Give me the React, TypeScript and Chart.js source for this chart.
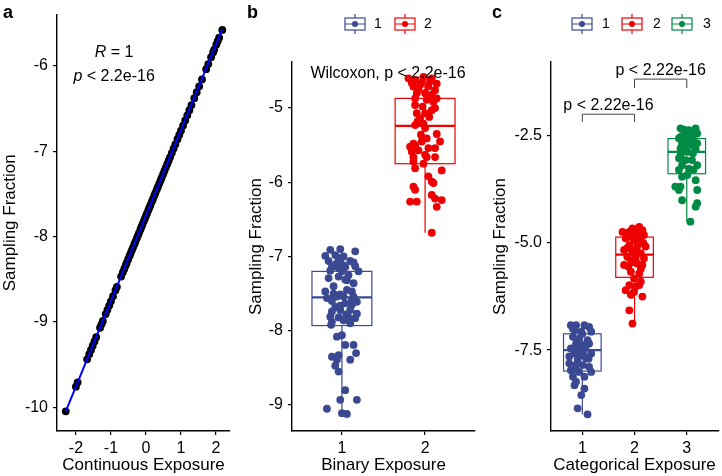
import React, { useEffect, useRef } from "react";
import { Chart, registerables } from "chart.js";
Chart.register(...registerables);

const FONT = "'Liberation Sans', Arial, Helvetica, sans-serif";
const BLUE = "#3B4992";
const RED = "#EE0000";
const GREEN = "#008B45";
const LINE_BLUE = "#0000FF";

// ---------- Panel a: continuous exposure ----------
const contX = [-2.29, -2.0, -1.95, -1.68, -1.62, -1.57, -1.52, -1.47, -1.42, -1.31, -1.27, -1.23, -1.15, -1.1, -1.05, -1.0, -0.94, -0.87, -0.83, -0.71, -0.66, -0.62, -0.58, -0.55, -0.51, -0.47, -0.44, -0.4, -0.37, -0.33, -0.3, -0.26, -0.23, -0.2, -0.16, -0.13, -0.1, -0.06, -0.03, 0.0, 0.03, 0.07, 0.1, 0.13, 0.17, 0.2, 0.24, 0.27, 0.31, 0.34, 0.38, 0.42, 0.45, 0.49, 0.53, 0.57, 0.61, 0.65, 0.69, 0.74, 0.79, 0.84, 0.9, 0.95, 1.0, 1.06, 1.12, 1.18, 1.24, 1.3, 1.38, 1.45, 1.52, 1.6, 1.72, 1.78, 1.86, 1.92, 1.95, 2.01, 2.05, 2.09, 2.18];
const contY = [-10.05, -9.76, -9.71, -9.44, -9.38, -9.33, -9.28, -9.23, -9.18, -9.07, -9.03, -8.99, -8.91, -8.86, -8.81, -8.76, -8.70, -8.63, -8.59, -8.47, -8.42, -8.38, -8.34, -8.31, -8.27, -8.23, -8.20, -8.16, -8.13, -8.09, -8.06, -8.02, -7.99, -7.96, -7.92, -7.89, -7.86, -7.82, -7.79, -7.76, -7.73, -7.69, -7.66, -7.63, -7.59, -7.56, -7.52, -7.49, -7.45, -7.42, -7.38, -7.34, -7.31, -7.27, -7.23, -7.19, -7.15, -7.11, -7.07, -7.02, -6.97, -6.92, -6.86, -6.81, -6.76, -6.70, -6.64, -6.58, -6.52, -6.46, -6.38, -6.31, -6.24, -6.16, -6.04, -5.98, -5.90, -5.84, -5.81, -5.75, -5.71, -5.67, -5.58];
const fitX = [-2.29, 2.18];
const fitY = [-10.05, -5.57];
const contXTicks = [-2, -1, 0, 1, 2];
const contXTickLabels = ["-2", "-1", "0", "1", "2"];
const contYTicks = [-10, -9, -8, -7, -6];
const contYTickLabels = ["-10", "-9", "-8", "-7", "-6"];

// ---------- Panel b: binary exposure ----------
const binCats = [1, 2];
const binCatLabels = ["1", "2"];
const binG1X = [0.86, 0.98, 1.16, 0.80, 0.92, 1.02, 0.84, 0.98, 1.10, 1.14, 0.88, 0.96, 1.04, 1.16, 0.86, 1.00, 1.20, 0.84, 0.96, 1.06, 1.04, 0.80, 0.90, 0.98, 1.06, 1.12, 0.82, 0.94, 1.02, 1.14, 1.18, 0.92, 1.04, 1.12, 0.88, 0.98, 1.10, 1.18, 0.86, 0.96, 1.08, 1.16, 0.88, 1.02, 1.10, 0.87, 0.94, 1.00, 1.04, 1.14, 0.88, 0.96, 1.17, 0.94, 1.10, 0.92, 0.96, 1.04, 0.98, 1.18, 0.82, 1.00, 1.06, 0.93, 1.08, 0.90, 1.12, 0.98, 0.88, 1.05, 1.14, 0.96, 1.02];
const binG1Y = [-6.91, -6.90, -6.93, -6.99, -6.98, -7.00, -7.06, -7.07, -7.06, -7.08, -7.14, -7.15, -7.14, -7.13, -7.19, -7.20, -7.20, -7.29, -7.27, -7.32, -7.31, -7.47, -7.50, -7.51, -7.45, -7.47, -7.56, -7.54, -7.54, -7.54, -7.61, -7.68, -7.63, -7.65, -7.74, -7.72, -7.72, -7.77, -7.81, -7.82, -7.82, -7.83, -7.88, -7.86, -7.90, -7.92, -8.08, -8.06, -8.19, -8.19, -8.35, -8.33, -8.30, -8.39, -8.39, -8.47, -8.55, -8.80, -8.93, -8.93, -9.05, -9.11, -9.12, -7.10, -7.25, -7.40, -7.58, -7.66, -7.60, -7.78, -7.36, -7.02, -7.12];
const binG2X = [1.80, 1.88, 1.98, 2.08, 2.14, 1.86, 1.94, 2.04, 2.12, 1.90, 2.00, 2.08, 1.88, 2.02, 2.14, 2.12, 1.88, 1.90, 2.00, 1.94, 1.98, 1.88, 2.00, 2.02, 1.96, 2.18, 1.82, 1.88, 2.04, 2.12, 1.84, 1.92, 1.86, 2.02, 2.12, 1.86, 1.88, 1.98, 2.20, 2.04, 2.08, 2.10, 1.86, 1.88, 2.08, 2.12, 2.20, 1.82, 1.90, 2.14, 2.08, 1.96, 2.06, 1.92, 2.10, 1.97, 2.05, 1.91, 2.14, 1.86, 2.00, 1.95, 2.08, 1.84];
const binG2Y = [-4.60, -4.62, -4.58, -4.60, -4.67, -4.71, -4.69, -4.71, -4.76, -4.80, -4.80, -4.82, -4.87, -4.89, -4.87, -5.00, -4.96, -5.07, -5.07, -5.14, -5.21, -5.23, -5.27, -5.41, -5.45, -5.45, -5.52, -5.50, -5.54, -5.54, -5.59, -5.57, -5.66, -5.66, -5.66, -5.72, -5.81, -5.75, -5.84, -5.92, -5.99, -6.01, -6.06, -6.10, -6.17, -6.22, -6.24, -6.26, -6.26, -6.33, -6.68, -4.65, -4.64, -4.75, -4.92, -4.98, -5.12, -5.18, -5.35, -5.48, -5.63, -5.36, -5.03, -4.66];
const binQ1 = [-7.93, -5.75];
const binMed = [-7.55, -5.24];
const binQ3 = [-7.20, -4.87];
const binLo = [-9.12, -6.68];
const binHi = [-6.90, -4.58];
const binYTicks = [-9, -8, -7, -6, -5];
const binYTickLabels = ["-9", "-8", "-7", "-6", "-5"];

// ---------- Panel c: categorical exposure ----------
const catCats = [1, 2, 3];
const catCatLabels = ["1", "2", "3"];
const catG1X = [0.78, 0.88, 1.04, 1.13, 0.85, 0.98, 1.17, 0.82, 0.94, 1.10, 0.88, 1.01, 1.13, 0.78, 0.91, 1.04, 0.85, 0.98, 1.17, 1.07, 0.91, 0.75, 0.88, 1.01, 1.13, 0.78, 0.94, 1.17, 0.82, 1.04, 0.88, 0.85, 1.04, 0.98, 0.91, 1.10, 0.75, 0.82, 1.00, 0.90, 1.06, 0.96, 1.12, 0.86, 1.02];
const catG1Y = [-6.92, -6.92, -6.92, -6.96, -7.03, -7.07, -7.07, -7.19, -7.23, -7.27, -7.35, -7.38, -7.35, -7.46, -7.50, -7.46, -7.58, -7.62, -7.58, -7.69, -7.73, -7.81, -7.85, -7.85, -7.89, -7.97, -8.01, -8.01, -8.12, -8.12, -8.24, -8.32, -8.40, -8.55, -8.86, -9.00, -7.65, -7.00, -7.12, -7.27, -7.42, -7.55, -7.70, -7.95, -7.60];
const catG2X = [1.96, 2.09, 2.15, 1.90, 2.02, 2.18, 1.83, 1.99, 2.12, 1.90, 2.05, 2.21, 1.80, 1.96, 2.12, 1.86, 2.02, 2.18, 1.93, 1.80, 2.05, 2.15, 1.93, 2.09, 1.99, 2.12, 1.90, 2.02, 2.09, 1.83, 2.15, 1.93, 1.99, 1.90, 1.96, 1.77, 2.05, 2.00, 2.10, 1.93, 2.07, 2.17, 1.86, 2.03, 1.97, 2.12, 1.88];
const catG2Y = [-4.66, -4.62, -4.70, -4.74, -4.78, -4.81, -4.89, -4.93, -4.93, -5.05, -5.08, -5.08, -5.16, -5.20, -5.24, -5.32, -5.36, -5.36, -5.40, -5.51, -5.48, -5.51, -5.67, -5.71, -5.83, -5.90, -5.98, -6.02, -5.98, -6.10, -6.25, -6.21, -6.14, -6.57, -6.88, -4.74, -4.81, -4.70, -4.75, -4.85, -4.87, -5.00, -5.12, -5.15, -5.45, -5.60, -5.55];
const catG3X = [2.88, 3.04, 3.17, 2.98, 3.10, 3.20, 2.85, 3.01, 3.13, 2.91, 3.07, 3.20, 2.88, 3.01, 3.17, 2.85, 2.98, 3.10, 3.20, 2.91, 3.04, 2.85, 3.13, 2.91, 3.01, 2.78, 2.88, 3.17, 2.85, 3.20, 2.91, 3.20, 3.17, 3.07, 2.95, 3.10, 2.90, 3.05, 3.15, 2.93, 3.12, 2.88, 3.00, 3.08];
const catG3Y = [-2.32, -2.36, -2.32, -2.44, -2.48, -2.44, -2.55, -2.59, -2.61, -2.67, -2.71, -2.67, -2.79, -2.87, -2.81, -3.02, -3.06, -3.06, -3.18, -3.18, -3.26, -3.29, -3.29, -3.45, -3.41, -3.68, -3.68, -3.53, -3.76, -3.76, -4.00, -4.07, -4.15, -4.50, -2.35, -2.40, -2.50, -2.52, -2.45, -2.75, -2.90, -2.95, -2.70, -2.62];
const catQ1 = [-7.99, -5.80, -3.38];
const catMed = [-7.50, -5.27, -2.87];
const catQ3 = [-7.12, -4.86, -2.56];
const catLo = [-9.00, -6.88, -4.50];
const catHi = [-6.90, -4.62, -2.30];
const catYTicks = [-7.5, -5.0, -2.5];
const catYTickLabels = ["-7.5", "-5.0", "-2.5"];

const BOX_HALF = 0.36;
const POINT_R = 3.9;

const xy = (xs: number[], ys: number[]) => xs.map((x, i) => ({ x, y: ys[i] }));

function scatterDs(xs: number[], ys: number[], color: string) {
  return {
    data: xy(xs, ys),
    backgroundColor: color,
    borderColor: color,
    pointRadius: POINT_R,
    pointHoverRadius: POINT_R,
    pointBorderWidth: 0,
    showLine: false,
  };
}

function axis(o: any) {
  return {
    type: "linear",
    position: o.horizontal ? "bottom" : "left",
    min: o.min,
    max: o.max,
    afterBuildTicks: (s: any) => {
      s.ticks = o.ticks.map((v: number) => ({ value: v }));
    },
    afterFit: (s: any) => {
      if (o.horizontal) s.height = o.size;
      else s.width = o.size;
    },
    ticks: {
      autoSkip: false,
      maxRotation: 0,
      minRotation: 0,
      padding: o.tickPad,
      color: "#000",
      font: { family: FONT, size: 16 },
      callback: (_v: any, i: number) => o.labels[i],
    },
    grid: {
      display: true,
      drawOnChartArea: false,
      drawTicks: true,
      tickLength: 4,
      color: "#000",
      lineWidth: 1.2,
    },
    border: { display: true, color: "#000", width: 1.4 },
    title: {
      display: true,
      text: o.title,
      color: "#000",
      font: { family: FONT, size: 17 },
      padding: o.titlePad,
    },
  };
}

function boxPlugin(centers: number[], q1: number[], med: number[], q3: number[], lo: number[], hi: number[], colors: string[]) {
  return {
    id: "boxes",
    beforeDatasetsDraw(chart: any) {
      const { ctx, scales } = chart;
      const x = scales.x, y = scales.y;
      ctx.save();
      centers.forEach((c, i) => {
        const xl = x.getPixelForValue(c - BOX_HALF);
        const xr = x.getPixelForValue(c + BOX_HALF);
        const xc = x.getPixelForValue(c);
        const y1 = y.getPixelForValue(q1[i]);
        const y3 = y.getPixelForValue(q3[i]);
        const ym = y.getPixelForValue(med[i]);
        const yl = y.getPixelForValue(lo[i]);
        const yh = y.getPixelForValue(hi[i]);
        ctx.strokeStyle = colors[i];
        ctx.fillStyle = "#fff";
        ctx.lineWidth = 1.2;
        ctx.beginPath();
        ctx.moveTo(xc, yh);
        ctx.lineTo(xc, y3);
        ctx.moveTo(xc, y1);
        ctx.lineTo(xc, yl);
        ctx.stroke();
        ctx.fillRect(xl, y3, xr - xl, y1 - y3);
        ctx.strokeRect(xl, y3, xr - xl, y1 - y3);
        ctx.lineWidth = 2.2;
        ctx.beginPath();
        ctx.moveTo(xl, ym);
        ctx.lineTo(xr, ym);
        ctx.stroke();
      });
      ctx.restore();
    },
  };
}

function drawParts(ctx: any, parts: { t: string; it?: boolean }[], cx: number, cy: number, size: number) {
  const fonts = parts.map((p) => `${p.it ? "italic " : ""}${size}px ${FONT}`);
  let total = 0;
  const widths = parts.map((p, i) => {
    ctx.font = fonts[i];
    const w = ctx.measureText(p.t).width;
    total += w;
    return w;
  });
  let x = cx - total / 2;
  ctx.textBaseline = "middle";
  ctx.textAlign = "left";
  ctx.fillStyle = "#000";
  parts.forEach((p, i) => {
    ctx.font = fonts[i];
    ctx.fillText(p.t, x, cy);
    x += widths[i];
  });
}

function drawLetter(ctx: any, letter: string, x: number) {
  ctx.save();
  ctx.font = `bold 18px ${FONT}`;
  ctx.fillStyle = "#000";
  ctx.textAlign = "left";
  ctx.textBaseline = "alphabetic";
  ctx.fillText(letter, x, 18);
  ctx.restore();
}

function drawKey(ctx: any, cx: number, cy: number, color: string, label: string, tx: number) {
  ctx.save();
  ctx.strokeStyle = color;
  ctx.fillStyle = color;
  ctx.lineWidth = 1.2;
  ctx.beginPath();
  ctx.moveTo(cx, cy - 10);
  ctx.lineTo(cx, cy - 6);
  ctx.moveTo(cx, cy + 6);
  ctx.lineTo(cx, cy + 10);
  ctx.moveTo(cx - 10, cy);
  ctx.lineTo(cx + 10, cy);
  ctx.stroke();
  ctx.strokeRect(cx - 10, cy - 6, 20, 12);
  ctx.beginPath();
  ctx.arc(cx, cy, 3, 0, Math.PI * 2);
  ctx.fill();
  ctx.fillStyle = "#000";
  ctx.font = `14px ${FONT}`;
  ctx.textAlign = "left";
  ctx.textBaseline = "middle";
  ctx.fillText(label, tx, cy);
  ctx.restore();
}

function baseOptions(xAxis: any, yAxis: any, padding: any) {
  return {
    responsive: false,
    animation: false,
    devicePixelRatio: 1,
    events: [],
    layout: { padding },
    plugins: { legend: { display: false }, tooltip: { enabled: false } },
    scales: { x: xAxis, y: yAxis },
  };
}

function configA(): any {
  return {
    type: "scatter",
    data: {
      datasets: [
        {
          data: xy(fitX, fitY),
          showLine: true,
          borderColor: LINE_BLUE,
          borderWidth: 2,
          pointRadius: 0,
          pointHoverRadius: 0,
        },
        scatterDs(contX, contY, "#000"),
      ],
    },
    options: baseOptions(
      axis({ horizontal: true, min: -2.54, max: 2.4, ticks: contXTicks, labels: contXTickLabels, size: 45, tickPad: 4, title: "Continuous Exposure", titlePad: { top: 0, bottom: 0 } }),
      axis({ horizontal: false, min: -10.28, max: -5.4, ticks: contYTicks, labels: contYTickLabels, size: 57, tickPad: 5, title: "Sampling Fraction", titlePad: { top: 0, bottom: 0 } }),
      { left: 0, right: 10, top: 8, bottom: 0 }
    ),
    plugins: [
      {
        id: "decorA",
        afterDraw(chart: any) {
          const { ctx, scales } = chart;
          ctx.save();
          drawLetter(ctx, "a", 3);
          const cx = scales.x.getPixelForValue(-0.91);
          drawParts(ctx, [{ t: "R", it: true }, { t: " = 1" }], cx, scales.y.getPixelForValue(-5.84), 16);
          drawParts(ctx, [{ t: "p", it: true }, { t: " < 2.2e-16" }], cx, scales.y.getPixelForValue(-6.13), 16);
          ctx.restore();
        },
      },
    ],
  };
}

function configB(): any {
  return {
    type: "scatter",
    data: {
      datasets: [scatterDs(binG2X, binG2Y, RED), scatterDs(binG1X, binG1Y, BLUE)],
    },
    options: baseOptions(
      axis({ horizontal: true, min: 0.4, max: 2.6, ticks: binCats, labels: binCatLabels, size: 45, tickPad: 4, title: "Binary Exposure", titlePad: { top: 0, bottom: 0 } }),
      axis({ horizontal: false, min: -9.35, max: -4.38, ticks: binYTicks, labels: binYTickLabels, size: 52, tickPad: 5, title: "Sampling Fraction", titlePad: { top: 6, bottom: 0 } }),
      { left: 0, right: 5, top: 62, bottom: 0 }
    ),
    plugins: [
      boxPlugin(binCats, binQ1, binMed, binQ3, binLo, binHi, [BLUE, RED]),
      {
        id: "decorB",
        afterDraw(chart: any) {
          const { ctx, scales } = chart;
          ctx.save();
          drawLetter(ctx, "b", 7);
          drawKey(ctx, 115, 24, BLUE, "1", 134);
          drawKey(ctx, 165, 24, RED, "2", 184);
          drawParts(ctx, [{ t: "Wilcoxon, p < 2.2e-16" }], scales.x.getPixelForValue(1.554), scales.y.getPixelForValue(-4.53), 16);
          ctx.restore();
        },
      },
    ],
  };
}

function configC(): any {
  return {
    type: "scatter",
    data: {
      datasets: [scatterDs(catG3X, catG3Y, GREEN), scatterDs(catG2X, catG2Y, RED), scatterDs(catG1X, catG1Y, BLUE)],
    },
    options: baseOptions(
      axis({ horizontal: true, min: 0.4, max: 3.6, ticks: catCats, labels: catCatLabels, size: 45, tickPad: 4, title: "Categorical Exposure", titlePad: { top: 0, bottom: 0 } }),
      axis({ horizontal: false, min: -9.39, max: -0.77, ticks: catYTicks, labels: catYTickLabels, size: 71, tickPad: 5, title: "Sampling Fraction", titlePad: { top: 10, bottom: 0 } }),
      { left: 0, right: 2, top: 62, bottom: 0 }
    ),
    plugins: [
      boxPlugin(catCats, catQ1, catMed, catQ3, catLo, catHi, [BLUE, RED, GREEN]),
      {
        id: "decorC",
        afterDraw(chart: any) {
          const { ctx, scales } = chart;
          const x = scales.x, y = scales.y;
          ctx.save();
          drawLetter(ctx, "c", 12);
          drawKey(ctx, 102, 24, BLUE, "1", 122);
          drawKey(ctx, 152, 24, RED, "2", 173);
          drawKey(ctx, 202, 24, GREEN, "3", 223);
          const brackets = [
            { a: 1, b: 2, top: -1.99, tip: -2.17, label: -1.78 },
            { a: 2, b: 3, top: -1.17, tip: -1.38, label: -0.96 },
          ];
          ctx.strokeStyle = "#444";
          ctx.lineWidth = 1;
          brackets.forEach((br) => {
            const xa = x.getPixelForValue(br.a), xb = x.getPixelForValue(br.b);
            const yt = y.getPixelForValue(br.top), yp = y.getPixelForValue(br.tip);
            ctx.beginPath();
            ctx.moveTo(xa, yp);
            ctx.lineTo(xa, yt);
            ctx.lineTo(xb, yt);
            ctx.lineTo(xb, yp);
            ctx.stroke();
            drawParts(ctx, [{ t: "p < 2.22e-16" }], (xa + xb) / 2, y.getPixelForValue(br.label), 16);
          });
          ctx.restore();
        },
      },
    ],
  };
}

export default function App() {
  const refA = useRef<HTMLCanvasElement>(null);
  const refB = useRef<HTMLCanvasElement>(null);
  const refC = useRef<HTMLCanvasElement>(null);

  useEffect(() => {
    const charts = [
      new Chart(refA.current as HTMLCanvasElement, configA()),
      new Chart(refB.current as HTMLCanvasElement, configB()),
      new Chart(refC.current as HTMLCanvasElement, configC()),
    ];
    return () => charts.forEach((c) => c.destroy());
  }, []);

  const cs = (left: number, width: number): React.CSSProperties => ({
    position: "absolute",
    left,
    top: 0,
    width,
    height: 476,
  });

  return (
    <div style={{ position: "absolute", left: 0, top: 0, width: 722, height: 476, background: "#fff", overflow: "hidden" }}>
      <canvas ref={refA} width={240} height={476} style={cs(0, 240)} />
      <canvas ref={refB} width={240} height={476} style={cs(240, 240)} />
      <canvas ref={refC} width={242} height={476} style={cs(480, 242)} />
    </div>
  );
}
